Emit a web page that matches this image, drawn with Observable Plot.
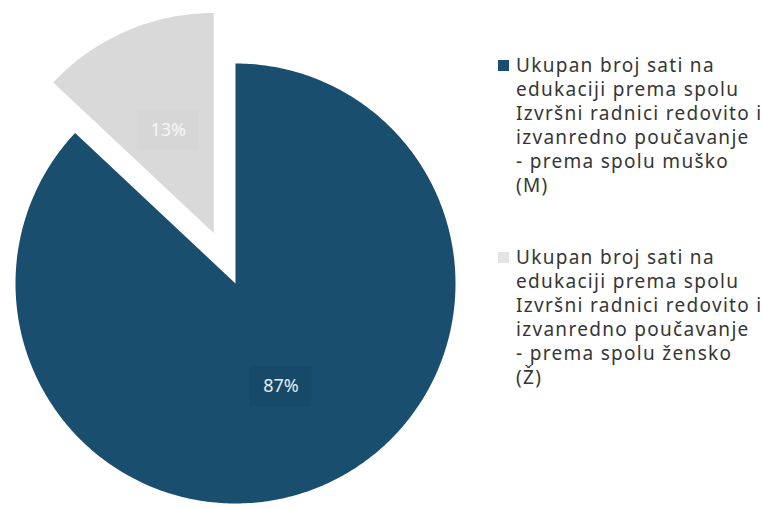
<!DOCTYPE html>
<html><head><meta charset="utf-8">
<script src="https://cdn.jsdelivr.net/npm/d3@7"></script>
<script src="https://cdn.jsdelivr.net/npm/@observablehq/plot@0.6"></script>
<style>
body{margin:0;background:#fff;}
#wrap{position:relative;width:763px;height:509px;overflow:hidden;}
#wrap svg{position:absolute;left:0;top:0;}
.item{position:absolute;left:498px;display:flex;align-items:flex-start;font-family:"Noto Sans",sans-serif;font-size:19px;line-height:24px;letter-spacing:1.3px;color:#363636;white-space:pre;}
.sw{width:11px;height:11px;margin-top:7px;margin-right:7px;flex:none;}
</style></head>
<body><div id="wrap"></div>
<script>
const categories = ["M", "Ž"];
const values = [87, 13];
const percentLabels = ["87%", "13%"];
const legendLabels = [
  "Ukupan broj sati na\nedukaciji prema spolu\nIzvršni radnici redovito i\nizvanredno poučavanje\n- prema spolu muško\n(M)",
  "Ukupan broj sati na\nedukaciji prema spolu\nIzvršni radnici redovito i\nizvanredno poučavanje\n- prema spolu žensko\n(Ž)"
];
const colors = ["#1a4e6e", "#d9d9d9"];
const labelColors = ["#e4ecf1", "#f6f6f6"];
const explode = [0, 0.25];

const W = 763, H = 509, R = 220, CX = 235, CY = 283;
const total = d3.sum(values);
let acc = 0;
const slices = values.map((v, i) => {
  const a0 = acc / total * 2 * Math.PI;
  acc += v;
  const a1 = acc / total * 2 * Math.PI;
  const am = (a0 + a1) / 2;
  const ox = explode[i] * Math.sin(am), oy = explode[i] * Math.cos(am);
  const pts = [{x: ox, y: oy}];
  const n = Math.max(4, Math.ceil((a1 - a0) * 80));
  for (let k = 0; k <= n; k++) {
    const t = a0 + (a1 - a0) * k / n;
    pts.push({x: ox + Math.sin(t), y: oy + Math.cos(t)});
  }
  pts.push({x: ox, y: oy});
  return {pts, label: {x: ox + 0.52 * Math.sin(am), y: oy + 0.51 * Math.cos(am), text: percentLabels[i], i}};
});
const labelsData = slices.map(s => s.label);

const marks = [];
slices.forEach((s, i) => {
  marks.push(Plot.line(s.pts, {x: "x", y: "y", fill: colors[i], stroke: "none", curve: "linear"}));
});
marks.push(Plot.rect(labelsData, {x1: d => d.x - 0.14, x2: d => d.x + 0.14, y1: d => d.y - 0.09, y2: d => d.y + 0.09,
  fill: d => d.i === 0 ? "#164967" : "#d2d2d2", fillOpacity: d => d.i === 0 ? 0.8 : 0.35}));
marks.push(Plot.text(labelsData, {x: "x", y: "y", text: "text", fill: d => labelColors[d.i], fontSize: 18, fontFamily: "Noto Sans"}));

const svg = Plot.plot({
  width: W, height: H, margin: 0,
  x: {domain: [-CX / R, (W - CX) / R], axis: null},
  y: {domain: [-(H - CY) / R, CY / R], axis: null},
  marks
});
const wrap = document.getElementById("wrap");
wrap.appendChild(svg);
const tops = [53, 245];
categories.forEach((c, i) => {
  const it = document.createElement("div");
  it.className = "item";
  it.style.top = tops[i] + "px";
  const sw = document.createElement("div");
  sw.className = "sw";
  sw.style.background = i === 0 ? colors[0] : "#e4e4e4";
  const tx = document.createElement("div");
  tx.textContent = legendLabels[i];
  it.appendChild(sw); it.appendChild(tx);
  wrap.appendChild(it);
});
</script></body></html>
